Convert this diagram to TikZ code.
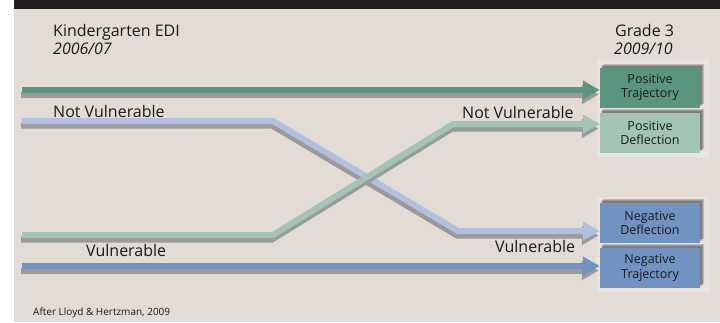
\documentclass[tikz,border=0pt]{standalone}
\usepackage{fontspec}
\setmainfont{Open Sans}
\usetikzlibrary{arrows.meta,calc}
\definecolor{bgc}{HTML}{E2DCD5}
\definecolor{barc}{HTML}{231F20}
\definecolor{frmc}{HTML}{E8E4DF}
\definecolor{shc}{HTML}{9A9A9A}
\definecolor{dgreen}{HTML}{5A9580}
\definecolor{lgreen}{HTML}{A3C5B5}
\definecolor{lblue}{HTML}{B0C0DE}
\definecolor{dblue}{HTML}{7293C2}
\definecolor{txt}{HTML}{1A1A1A}
\tikzset{
  conn/.style={line width=6pt, -{Triangle[length=17pt,width=18pt]}},
  connshadow/.style={conn, draw=shc, transform canvas={shift={(-1pt,-4.5pt)}}},
  box/.style={minimum width=100pt, minimum height=40pt, inner sep=0pt, align=center,
    text=txt, font=\fontsize{12.5}{14.5}\selectfont},
  lbl/.style={anchor=base west, inner sep=0pt, text=txt, font=\fontsize{16}{18}\selectfont},
}
\begin{document}
\begin{tikzpicture}[x=1pt,y=-1pt]
\useasboundingbox (0,0) rectangle (720,322);
\fill[white] (0,0) rectangle (720,322);
\fill[bgc] (14,0) rectangle (720,322);
\fill[barc] (14,0) rectangle (720,9);
% light frames behind boxes
\fill[frmc] (597,59) rectangle (709,157);
\fill[frmc] (597,197) rectangle (709,292);
% box shadows (fake blur)
\foreach \y in {68,113,203,248}{
  \foreach \k in {1,2,3}{
    \fill[black,opacity=0.18] (600+\k,\y-\k-1) rectangle (700+\k+1,\y+40-\k-1);
  }
}
% boxes
\node[box,fill=dgreen] (pt) at (650,87.5) {Positive\\Trajectory};
\node[box,fill=lgreen] (pd) at (650,133) {Positive\\Deflection};
\node[box,fill=dblue] (nd) at (650,223) {Negative\\Deflection};
\node[box,fill=dblue] (nt) at (650,268) {Negative\\Trajectory};
% start and bend points
\coordinate (s1) at (22,90);
\coordinate (s2) at (22,121);
\coordinate (b2a) at (273,121);
\coordinate (b2b) at (458,231);
\coordinate (s3) at (22,235);
\coordinate (b3a) at (273,235);
\coordinate (b3b) at (453,124);
\coordinate (s4) at (22,266);
% connectors
\draw[connshadow] (s1) -- (pt.west |- s1);
\draw[conn,draw=dgreen] (s1) -- (pt.west |- s1);
\draw[connshadow] (s4) -- (nt.west |- s4);
\draw[conn,draw=dblue] (s4) -- (nt.west |- s4);
\draw[connshadow] (s2) -- (b2a) -- (b2b) -- (nd.west |- b2b);
\draw[conn,draw=lblue] (s2) -- (b2a) -- (b2b) -- (nd.west |- b2b);
\draw[connshadow] (s3) -- (b3a) -- (b3b) -- (pd.west |- b3b);
\draw[conn,draw=lgreen] (s3) -- (b3a) -- (b3b) -- (pd.west |- b3b);
% labels
\node[lbl] (k1) at (53,36) {Kindergarten EDI};
\node[lbl] (k2) at (53,54) {\itshape 2006/07};
\node[lbl] (g1) at (615,36) {Grade 3};
\node[lbl] (g2) at (614,54) {\itshape 2009/10};
\node[lbl] (nv1) at (53,117) {Not Vulnerable};
\node[lbl] (nv2) at (462,118) {Not Vulnerable};
\node[lbl] (v1) at (86,256) {Vulnerable};
\node[lbl] (v2) at (495,252) {Vulnerable};
\node[anchor=base west, inner sep=0pt, text=txt, font=\fontsize{10}{12}\selectfont] (src) at (33,315) {After Lloyd \& Hertzman, 2009};
\end{tikzpicture}
\end{document}
